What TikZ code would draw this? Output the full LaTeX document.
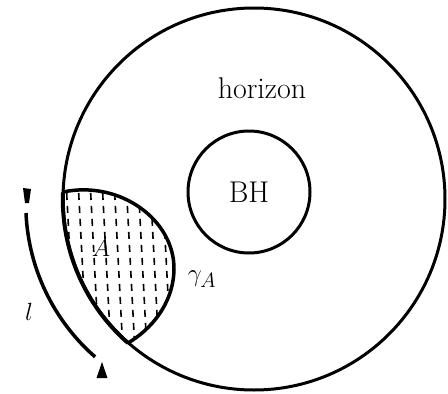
\documentclass[tikz,border=0pt]{standalone}
\begin{document}
\begin{tikzpicture}[x=1pt,y=-1pt,
  circline/.style={line width=3pt},
  gammaline/.style={line width=3.5pt, line join=round},
  hatch/.style={line width=1.6pt, dash pattern=on 7pt off 6pt},
  lbl/.style={font=\fontsize{30}{36}\selectfont, inner sep=0pt}]
\useasboundingbox (0,0) rectangle (448,394);
\fill[white] (0,0) rectangle (448,394);
% centres
\coordinate (O) at (254,199);
\coordinate (Pt) at (63,192);
\coordinate (Pm) at (174,270);
\coordinate (Pb) at (128,343);
% hatching of region A
\begin{scope}
  \clip (Pt) .. controls (120,180) and (175,220) .. (Pm)
             .. controls (173,305) and (150,330) .. (Pb)
    arc[start angle=131.2, end angle=182.1, radius=191] -- cycle;
  \foreach \x in {30,42,...,210}
    \draw[hatch] (\x,180) -- (\x+9,352);
\end{scope}
% horizon circle
\draw[circline] (O) circle[radius=191];
% left boundary of A (thicker part of the horizon)
\draw[line width=4pt] (Pb) arc[start angle=131.2, end angle=182.1, radius=191];
% gamma_A curve
\draw[gammaline] (Pt) .. controls (120,180) and (175,220) .. (Pm)
                      .. controls (173,305) and (150,330) .. (Pb);
% black hole
\node[draw, circle, circline, minimum size=122pt, inner sep=0pt, font=\fontsize{30}{36}\selectfont] (bh) at (249,192) {BH};
% labels
\node[lbl] (hor) at (262,88) {horizon};
\node[lbl] (lA) at (101,248) {$A$};
\node[lbl] (lg) at (202,279) {$\gamma_A$};
\node[lbl] (ll) at (29,312) {$l$};
% arc l with end marks
\coordinate (ls) at (26,213);
\draw[line width=3.5pt] (ls) arc[start angle=177.5, end angle=131.2, radius=203] coordinate (le);
\coordinate (tm) at (27,188);
\fill (23,188) -- (31,189) -- (29,203) -- (25,203) -- cycle;
\coordinate (bm) at (102,362);
\fill (bm) -- (107.5,378) -- (96.5,378) -- cycle;
\end{tikzpicture}
\end{document}
